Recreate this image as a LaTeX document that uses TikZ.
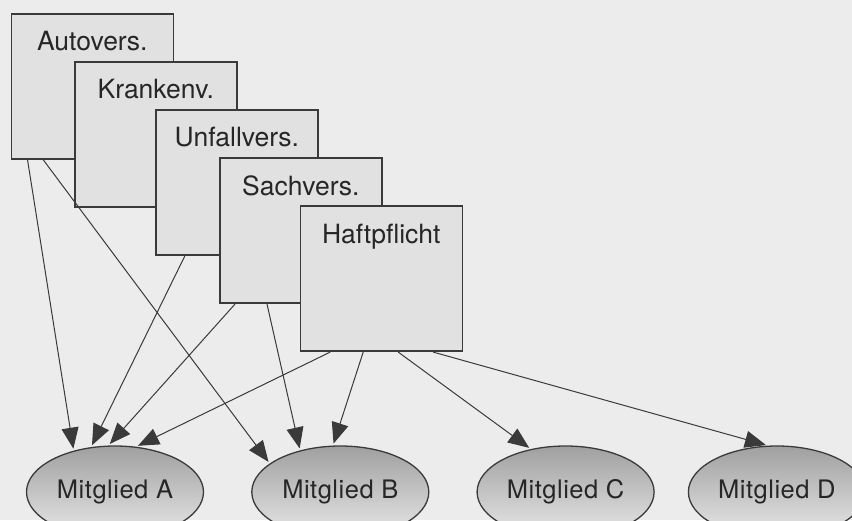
\documentclass[tikz,border=0pt]{standalone}
\usepackage{fontspec}
\setmainfont{TeX Gyre Heros}
\newfontfamily\memberfont[LetterSpace=2]{TeX Gyre Heros}
\usetikzlibrary{arrows.meta,positioning,shapes.geometric}
\definecolor{pagegray}{RGB}{236,236,236}
\definecolor{boxgray}{RGB}{225,225,225}
\definecolor{linegray}{RGB}{58,58,58}
\definecolor{elltop}{RGB}{160,160,160}
\definecolor{ellbottom}{RGB}{232,232,232}
\tikzset{
    %Define standard arrow tip
    >={Triangle[length=21pt,width=17pt]},
    %Define style for the stacked boxes
    versrect/.style={
           rectangle,
           draw=linegray, line width=1.6pt,
           fill=boxgray,
           minimum width=162pt,
           minimum height=145pt,
           inner xsep=0pt,
           inner ysep=19pt,
           text height=18pt,
           text depth=89pt,
           font=\fontsize{26.5}{30}\selectfont,
           text=black!85,
           text centered},
    %Define style for members
    member/.style={
           ellipse,
           draw=linegray, line width=1.3pt,
           top color=elltop,
           bottom color=ellbottom,
           minimum width=177pt,
           minimum height=92pt,
           inner sep=0pt,
           font=\memberfont\fontsize{25.5}{30}\selectfont,
           text=black!85},
    % Define arrow style
    pil/.style={
           ->,
           color=linegray,
           line width=1pt,
           shorten >=2pt}
}
\begin{document}
\begin{tikzpicture}[x=1pt,y=1pt,node distance=47pt]
\fill[pagegray] (0,0) rectangle (852,520);
\useasboundingbox (0,0) rectangle (852,520);
\clip (0,0) rectangle (852,520);
\node[versrect, anchor=north west](av) at (10.5,507){Autovers.};
\node[versrect, below right=48pt and 63.5pt of av.north west](kv){Krankenv.};
\node[versrect, below right=48pt and 81pt of kv.north west](uv){Unfallvers.};
\node[versrect, below right=48.5pt and 64pt of uv.north west](sv){Sachvers.};
\node[versrect, below right=48pt and 80.5pt of sv.north west](hp){Haftpflicht};
\node[member](ma) at (115,28){Mitglied A};
\node[member, right=of ma](mb){Mitglied B};
\node[member, right=of mb](mc){Mitglied C};
\node[member, right=33pt of mc](md){Mitglied D};
\path[pil]
	([xshift=17pt]av.south west) edge (ma.135)
	([xshift=32.6pt]av.south west) edge (mb.158.3)
	([xshift=30pt]uv.south west) edge (ma.118.6)
	([xshift=16pt]sv.south west) edge (ma.98.7)
	([xshift=48pt]sv.south west) edge (mb.134.6)
	([xshift=30.7pt]hp.south west) edge (ma.65.3)
	([xshift=63.7pt]hp.south west) edge (mb.99.9)
	([xshift=98.7pt]hp.south west) edge (mc.129.1)
	([xshift=133.7pt]hp.south west) edge (md.101);
\end{tikzpicture}
\end{document}
